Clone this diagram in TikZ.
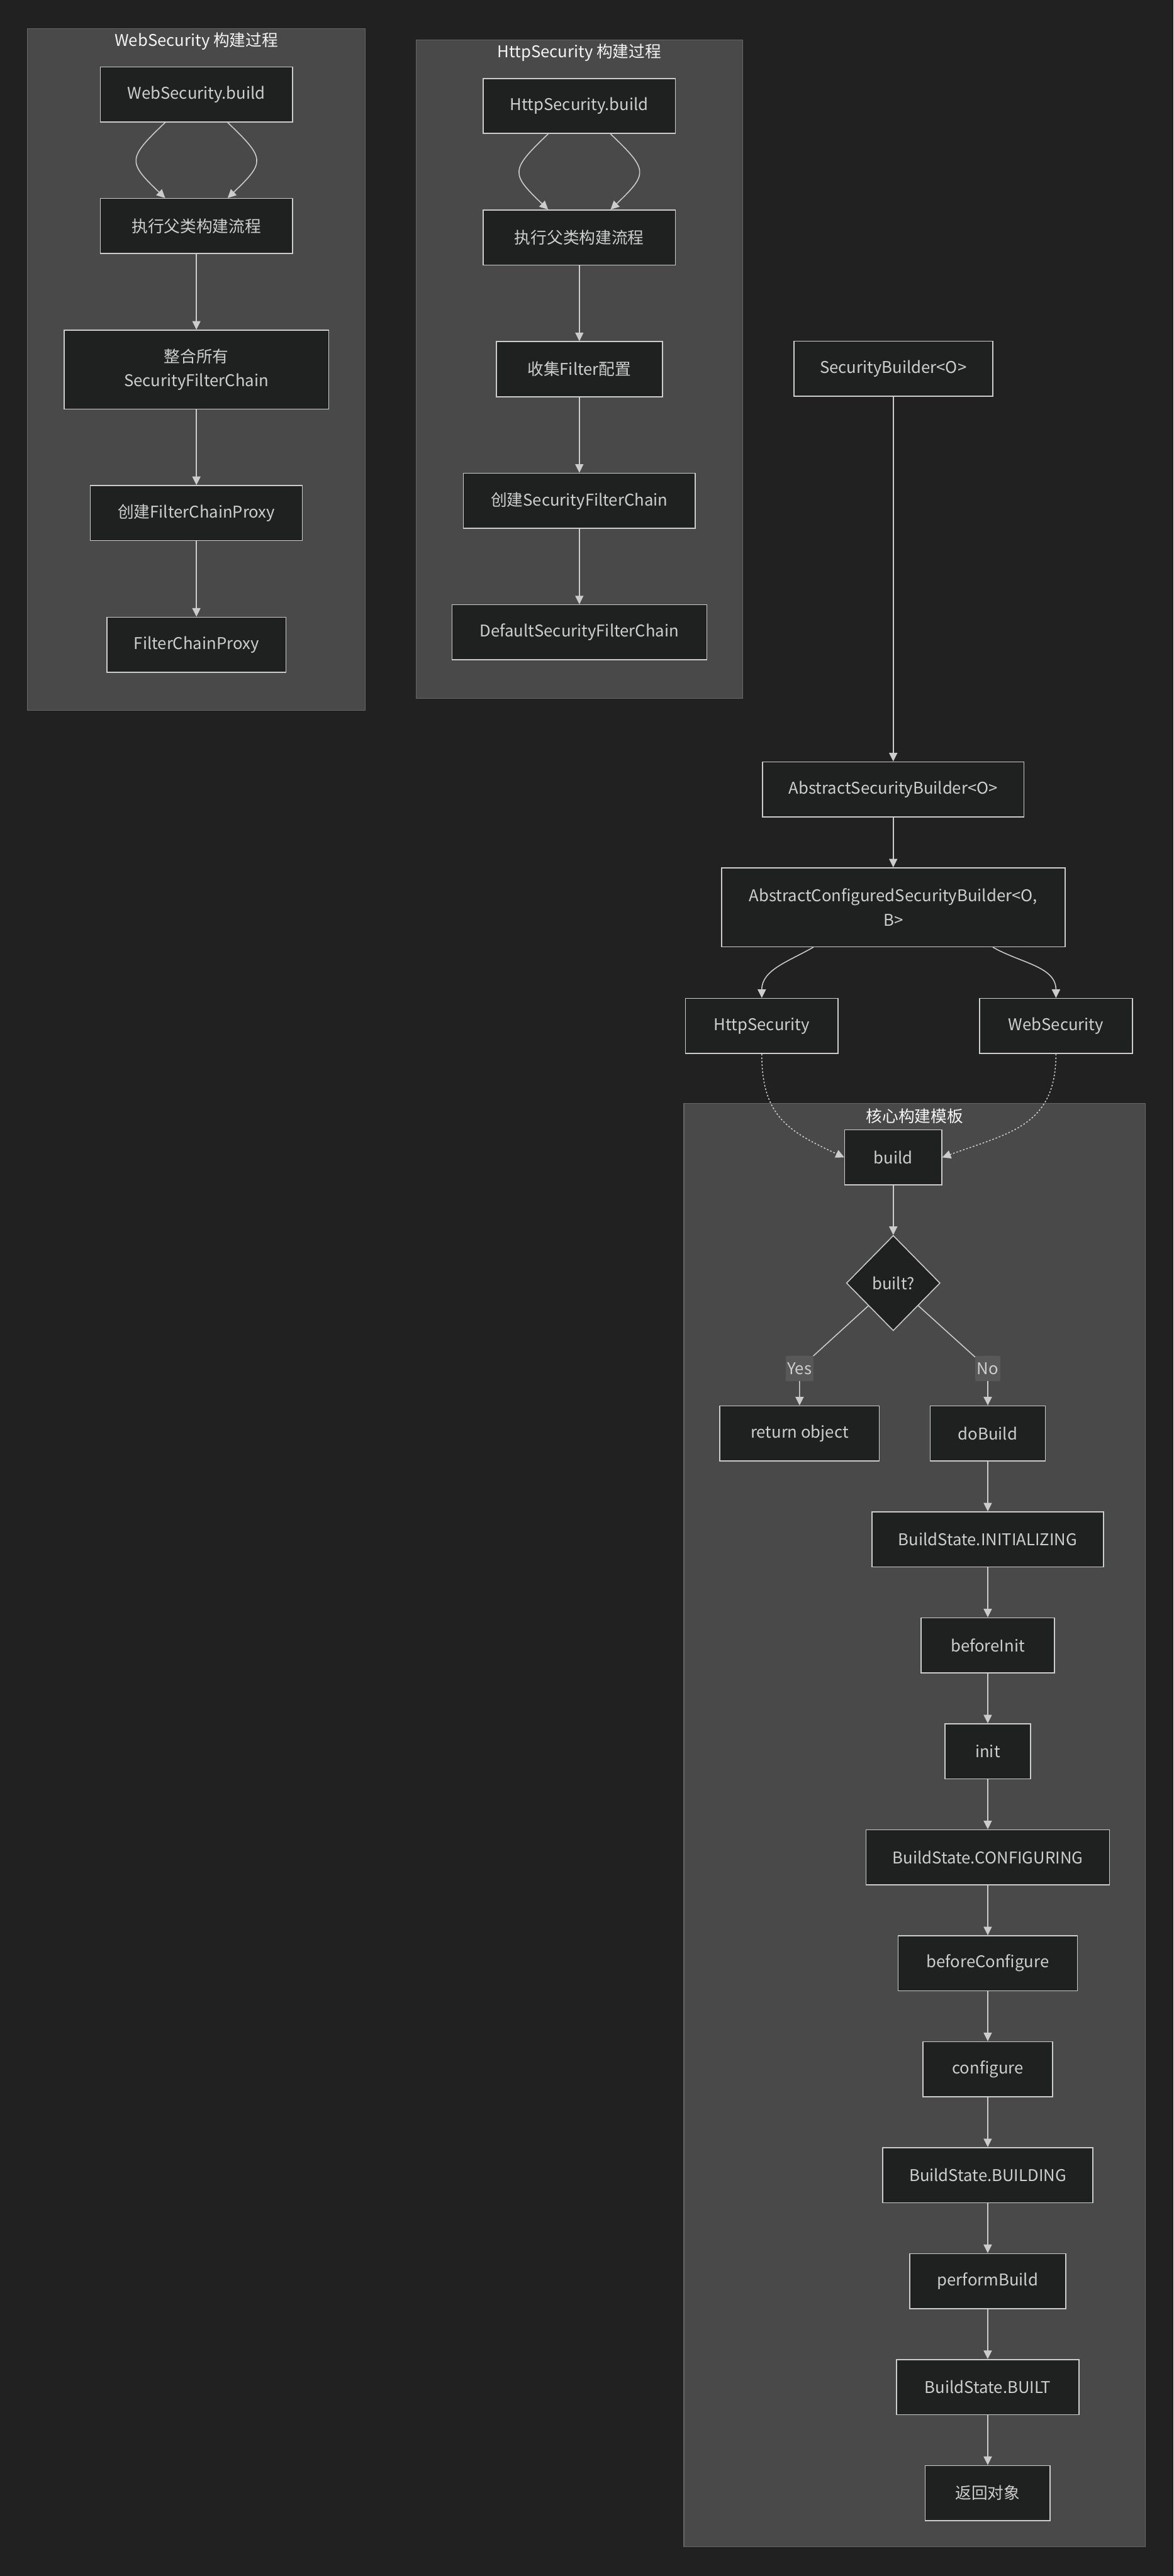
\documentclass[tikz,border=0pt]{standalone}
\usepackage{fontspec}
\setmainfont{Noto Sans CJK SC}
\usepackage{xcolor}
\usepackage{tikz}
\usetikzlibrary{shapes,arrows.meta,positioning,fit,backgrounds}
\definecolor{canvas}{RGB}{33,33,33}
\definecolor{groupfill}{RGB}{72,73,72}
\definecolor{groupline}{RGB}{102,102,102}
\definecolor{boxfill}{RGB}{31,32,32}
\definecolor{boxline}{RGB}{204,204,204}
\definecolor{boxtext}{RGB}{206,206,206}
\definecolor{titletext}{RGB}{244,244,244}
\definecolor{labelfill}{RGB}{88,88,88}

\begin{document}
\begin{tikzpicture}[
  x=0.5mm, y=-0.5mm,
  node distance=2.3cm,
  box/.style={rectangle,draw=boxline,line width=0.85pt,fill=boxfill,text=boxtext,minimum height=1.675cm,inner xsep=4pt,align=center,font=\fontsize{14}{21}\selectfont},
  decide/.style={diamond,draw=boxline,line width=0.85pt,fill=boxfill,text=boxtext,minimum width=2.85cm,minimum height=2.9cm,inner sep=0pt,font=\fontsize{14}{21}\selectfont},
  group/.style={rectangle,draw=groupline,fill=groupfill,line width=0.6pt},
  grouptitle/.style={text=titletext,anchor=center,yshift=-0.39cm,font=\fontsize{14}{17}\selectfont},
  lbl/.style={fill=labelfill,text=boxtext,inner sep=1.5pt,minimum height=0.75cm,font=\fontsize{14}{17}\selectfont},
  arrow/.style={->,>={Triangle[length=2.6mm,width=2.5mm]},line width=0.85pt,boxline},
  dotarrow/.style={arrow,dash pattern=on 1.4pt off 1.6pt}
]
\useasboundingbox (0,0) rectangle (714,1568);

% WebSecurity build
\node[box,minimum width=5.85cm] (ws1) at (119.5,57.5) {WebSecurity.build};
\node[box,minimum width=5.85cm,below=of ws1] (ws2) {执行父类构建流程};
\node[box,minimum width=8.05cm,minimum height=2.4cm,below=of ws2] (ws3) {整合所有\\SecurityFilterChain};
\node[box,minimum width=6.45cm,below=of ws3] (ws4) {创建FilterChainProxy};
\node[box,minimum width=5.45cm,below=of ws4] (ws5) {FilterChainProxy};
\draw[arrow] ([xshift=-0.95cm]ws1.south) .. controls +(-23,22) and +(-23,-22) .. ([xshift=-0.95cm]ws2.north);
\draw[arrow] ([xshift=0.95cm]ws1.south) .. controls +(23,22) and +(23,-22) .. ([xshift=0.95cm]ws2.north);
\draw[arrow] (ws2) -- (ws3);
\draw[arrow] (ws3) -- (ws4);
\draw[arrow] (ws4) -- (ws5);

% HttpSecurity build
\node[box,minimum width=5.85cm] (hs1) at (352.5,64.5) {HttpSecurity.build};
\node[box,minimum width=5.85cm,below=of hs1] (hs2) {执行父类构建流程};
\node[box,minimum width=5.05cm,below=of hs2] (hs3) {收集Filter配置};
\node[box,minimum width=7.05cm,below=of hs3] (hs4) {创建SecurityFilterChain};
\node[box,minimum width=7.75cm,below=of hs4] (hs5) {DefaultSecurityFilterChain};
\draw[arrow] ([xshift=-0.95cm]hs1.south) .. controls +(-23,22) and +(-23,-22) .. ([xshift=-0.95cm]hs2.north);
\draw[arrow] ([xshift=0.95cm]hs1.south) .. controls +(23,22) and +(23,-22) .. ([xshift=0.95cm]hs2.north);
\draw[arrow] (hs2) -- (hs3);
\draw[arrow] (hs3) -- (hs4);
\draw[arrow] (hs4) -- (hs5);

% class hierarchy
\node[box,minimum width=6.05cm] (sb) at (543.5,224.5) {SecurityBuilder<O>};
\node[box,minimum width=7.95cm] (asb) at (543.5,480.5) {AbstractSecurityBuilder<O>};
\node[box,minimum width=10.45cm,minimum height=2.4cm,below=1.52cm of asb] (acsb) {AbstractConfiguredSecurityBuilder<O,\\B>};
\node[box,minimum width=4.65cm] (http) at (463.5,624.5) {HttpSecurity};
\node[box,minimum width=4.65cm] (web) at (642.5,624.5) {WebSecurity};
\draw[arrow] (sb) -- (asb);
\draw[arrow] (asb) -- (acsb);
\draw[arrow] ([xshift=-2.43cm]acsb.south) to[out=-150,in=90] (http.north);
\draw[arrow] ([xshift=3.03cm]acsb.south) to[out=-30,in=90] (web.north);

% template method
\node[box,minimum width=2.95cm] (build) at (543.5,704.5) {build};
\node[decide] (built) at (543.5,781) {built?};
\node[box,minimum width=4.85cm] (ret) at (486.5,872.5) {return object};
\node[box,minimum width=3.5cm] (dob) at (601,872.5) {doBuild};
\node[box,minimum width=7.05cm,below=1.52cm of dob] (st1) {BuildState.INITIALIZING};
\node[box,minimum width=4.05cm,below=1.52cm of st1] (binit) {beforeInit};
\node[box,minimum width=2.6cm,below=1.52cm of binit] (init) {init};
\node[box,minimum width=7.4cm,below=1.52cm of init] (st2) {BuildState.CONFIGURING};
\node[box,minimum width=5.45cm,below=1.52cm of st2] (bconf) {beforeConfigure};
\node[box,minimum width=3.95cm,below=1.52cm of bconf] (conf) {configure};
\node[box,minimum width=6.4cm,below=1.52cm of conf] (st3) {BuildState.BUILDING};
\node[box,minimum width=4.75cm,below=1.52cm of st3] (pbuild) {performBuild};
\node[box,minimum width=5.55cm,below=1.52cm of pbuild] (st4) {BuildState.BUILT};
\node[box,minimum width=3.8cm,below=1.52cm of st4] (back) {返回对象};
\node[lbl] (yes) at (486.5,833) {Yes};
\node[lbl] (no) at (601,833) {No};
\draw[dotarrow] (http.south) to[out=-90,in=155,looseness=1.2] (build.west);
\draw[dotarrow] (web.south) to[out=-90,in=20,looseness=1.2] (build.east);
\draw[arrow] (build) -- (built);
\draw[arrow] (built) -- (yes) -- (ret);
\draw[arrow] (built) -- (no) -- (dob);
\draw[arrow] (dob) -- (st1);
\draw[arrow] (st1) -- (binit);
\draw[arrow] (binit) -- (init);
\draw[arrow] (init) -- (st2);
\draw[arrow] (st2) -- (bconf);
\draw[arrow] (bconf) -- (conf);
\draw[arrow] (conf) -- (st3);
\draw[arrow] (st3) -- (pbuild);
\draw[arrow] (pbuild) -- (st4);
\draw[arrow] (st4) -- (back);

\begin{scope}[on background layer]
\fill[canvas] (0,0) rectangle (714,1568);
\node[group,fit=(ws1)(ws3)(ws5),inner xsep=1.1cm,inner ysep=1.15cm,label={[grouptitle]north:WebSecurity 构建过程}] (wsgroup) {};
\node[group,fit=(hs1)(hs5)(hs4),inner xsep=1.08cm,inner ysep=1.15cm,label={[grouptitle]north:HttpSecurity 构建过程}] (hsgroup) {};
\node[group,fit=(build)(ret)(st2)(back),inner xsep=1.08cm,inner ysep=0.79cm,label={[grouptitle]north:核心构建模板}] (coregroup) {};
\end{scope}
\end{tikzpicture}
\end{document}
